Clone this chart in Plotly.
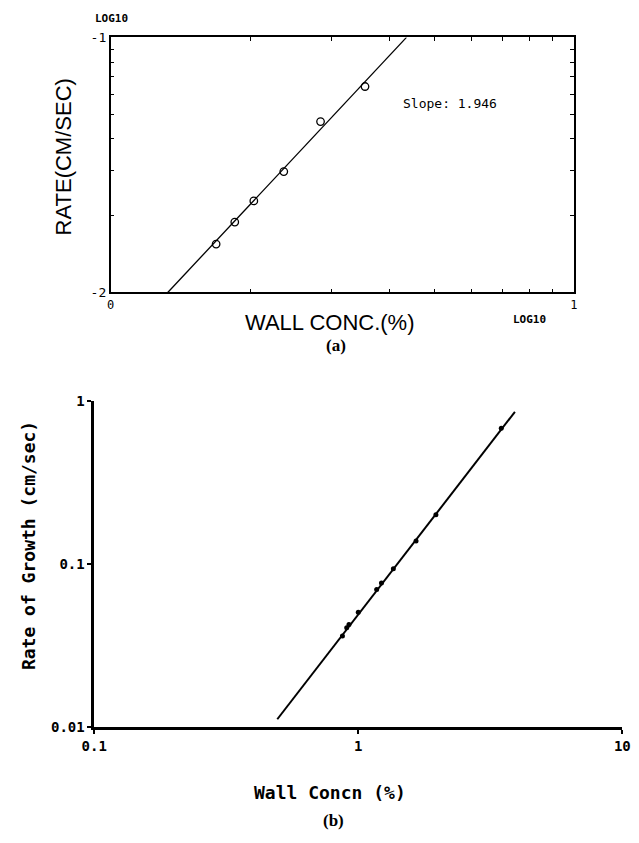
import plotly.graph_objects as go

# ---------------- data: panel (a) (log10 plot) ----------------
a_conc = [1.689, 1.853, 2.037, 2.364, 2.838, 3.54]
a_rate = [0.01548, 0.01888, 0.02286, 0.02978, 0.0468, 0.0642]
a_fit_conc = [1.328, 4.35]
a_fit_rate = [0.01, 0.1]
a_x_tickvals = [1, 10]
a_x_ticktext = ["0", "1"]
a_y_tickvals = [0.01, 0.1]
a_y_ticktext = ["-2", "-1"]
a_x_minor = [2, 3, 4, 5, 6, 7, 8, 9]
a_y_minor = [0.02, 0.03, 0.04, 0.05, 0.06, 0.07, 0.08, 0.09]
a_slope_text = "Slope: 1.946"

# ---------------- data: panel (b) (log-log plot) ----------------
b_conc = [0.871, 0.904, 0.922, 1.0, 1.174, 1.224, 1.358, 1.655, 1.968, 3.48]
b_rate = [0.0363, 0.0408, 0.0427, 0.0507, 0.070, 0.0768, 0.0937, 0.139, 0.201, 0.685]
b_fit_conc = [0.4935, 3.92]
b_fit_rate = [0.01117, 0.862]
b_x_tickvals = [0.1, 1, 10]
b_x_ticktext = ["0.1", "1", "10"]
b_y_tickvals = [0.01, 0.1, 1]
b_y_ticktext = ["0.01", "0.1", "1"]

W, H = 639, 843


def px(x):
    return x / W


def py(y):
    return 1 - y / H


fig = go.Figure()

# panel (a)
fig.add_trace(go.Scatter(x=a_fit_conc, y=a_fit_rate, mode="lines",
                         line=dict(color="black", width=1.3),
                         xaxis="x", yaxis="y", showlegend=False))
fig.add_trace(go.Scatter(x=a_conc, y=a_rate, mode="markers",
                         marker=dict(symbol="circle-open", size=7.5,
                                     color="black", line=dict(width=1.3)),
                         xaxis="x", yaxis="y", showlegend=False))

# panel (b)
fig.add_trace(go.Scatter(x=b_fit_conc, y=b_fit_rate, mode="lines",
                         line=dict(color="black", width=2),
                         xaxis="x2", yaxis="y2", showlegend=False))
fig.add_trace(go.Scatter(x=b_conc, y=b_rate, mode="markers",
                         marker=dict(symbol="circle", size=5, color="black"),
                         xaxis="x2", yaxis="y2", showlegend=False))

mono = "DejaVu Sans Mono"

fig.update_layout(
    width=W, height=H,
    margin=dict(l=0, r=0, t=0, b=0),
    paper_bgcolor="white", plot_bgcolor="white",
    showlegend=False,
    xaxis=dict(
        type="log", range=[0, 1], domain=[px(101), px(580)],
        anchor="y", showline=True, mirror="allticks", linecolor="black",
        linewidth=1.6, showgrid=False, zeroline=False,
        tickmode="array", tickvals=a_x_tickvals, ticktext=a_x_ticktext,
        ticks="inside", ticklen=0, tickcolor="black",
        tickfont=dict(family=mono, size=12, color="black"),
        minor=dict(tickmode="array", tickvals=a_x_minor, ticks="inside",
                   ticklen=4, tickcolor="black", tickwidth=1.2, showgrid=False),
    ),
    yaxis=dict(
        type="log", range=[-2, -1], domain=[py(290), py(30)],
        anchor="x", showline=True, mirror="allticks", linecolor="black",
        linewidth=1.6, showgrid=False, zeroline=False,
        tickmode="array", tickvals=a_y_tickvals, ticktext=a_y_ticktext,
        ticks="inside", ticklen=0, tickcolor="black",
        tickfont=dict(family=mono, size=13, color="black"),
        minor=dict(tickmode="array", tickvals=a_y_minor, ticks="inside",
                   ticklen=4, tickcolor="black", tickwidth=1.2, showgrid=False),
    ),
    xaxis2=dict(
        type="log", range=[-1, 1], domain=[px(84), px(630)],
        anchor="y2", showline=True, linecolor="black", linewidth=2.5,
        showgrid=False, zeroline=False,
        tickmode="array", tickvals=b_x_tickvals, ticktext=b_x_ticktext,
        ticks="outside", ticklen=4, tickwidth=1.5, tickcolor="black",
        tickfont=dict(family=mono, size=14, color="black", weight="bold"),
    ),
    yaxis2=dict(
        type="log", range=[-2, 0], domain=[py(733), py(401)],
        anchor="x2", showline=True, linecolor="black", linewidth=2.5,
        showgrid=False, zeroline=False,
        tickmode="array", tickvals=b_y_tickvals, ticktext=b_y_ticktext,
        ticks="outside", ticklen=4, tickwidth=1.5, tickcolor="black",
        tickfont=dict(family=mono, size=14, color="black", weight="bold"),
    ),
)

ann = []
sans = "Liberation Sans"
serif = "Liberation Serif"


def add(text, x, y, font, angle=0):
    ann.append(dict(text=text, x=px(x), y=py(y), xref="paper", yref="paper",
                    xanchor="center", yanchor="middle", showarrow=False,
                    textangle=angle, font=font))


# panel (a) text
add("LOG10", 102, 11, dict(family=mono, size=11, color="black", weight="bold"))
add("LOG10", 534, 318, dict(family=mono, size=11, color="black", weight="bold"))
add("WALL CONC.(%)", 328, 321, dict(family=sans, size=22, color="black"))
add("RATE(CM/SEC)", 52, 152, dict(family=sans, size=22, color="black"), -90)
add(a_slope_text, 452, 97, dict(family=mono, size=13, color="black"))
add("(a)", 334, 344, dict(family=serif, size=17, color="black", weight="bold"))
# panel (b) text
add("Wall Concn (%)", 328, 800, dict(family=mono, size=18, color="black", weight="bold"))
add("Rate of Growth (cm/sec)", 16, 548,
    dict(family=mono, size=18, color="black", weight="bold"), -90)
add("(b)", 331, 828, dict(family=serif, size=17, color="black", weight="bold"))
fig.update_layout(annotations=ann)

fig.write_html("out.html")
